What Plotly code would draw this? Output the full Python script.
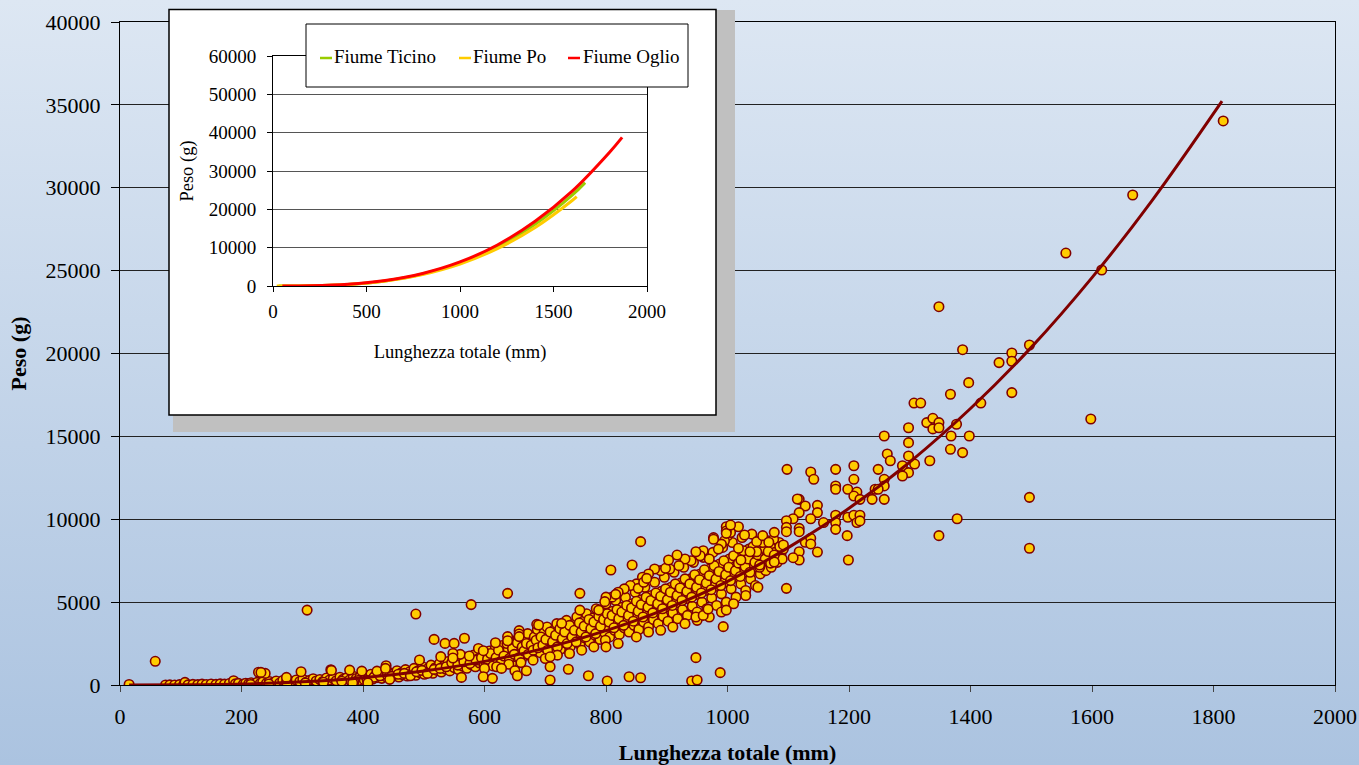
import base64
import plotly.graph_objects as go

# ---------------- data ----------------
# juvenile / small fish (length mm, weight g)
juv_len = [15, 75, 82, 90, 98, 105, 107, 112, 120, 128, 135, 142, 150, 158, 165, 172, 180, 187, 190, 195]
juv_wt = [30, 0, 10, 0, 20, 30, 160, 10, 40, 20, 50, 30, 60, 40, 70, 50, 90, 260, 70, 100]

# band along the curve, 200-400 mm
b1_len = [203, 207, 212, 216, 221, 226, 231, 235, 241, 246, 252, 257, 263, 268, 274, 279, 285, 290, 296, 301,
          307, 312, 318, 323, 329, 334, 340, 345, 351, 356, 362, 367, 373, 378, 384, 389, 395, 398,
          215, 245, 275, 305, 335, 365, 392]
b1_wt = [50, 110, 80, 140, 60, 160, 100, 190, 90, 210, 130, 240, 120, 270, 170, 230, 150, 300, 210, 350,
         180, 280, 380, 240, 330, 210, 420, 300, 380, 260, 470, 340, 430, 300, 530, 390, 480, 350,
         30, 60, 90, 130, 170, 230, 270]

# band 400-600 mm
b2_len = [402, 405, 409, 413, 416, 420, 424, 427, 431, 435, 438, 442, 445, 449, 452, 456, 459, 463, 466, 470,
          473, 477, 480, 484, 487, 491, 494, 498, 501, 505, 508, 512, 515, 519, 522, 526, 529, 533, 536, 540,
          543, 547, 550, 554, 557, 561, 564, 568, 571, 575, 578, 582, 585, 589, 592, 596, 599,
          407, 418, 428, 440, 447, 458, 468, 478, 488, 497, 506, 517, 527, 537, 546, 556, 566, 576, 586, 595,
          560, 590, 575]
b2_wt = [320, 520, 410, 650, 360, 560, 450, 720, 400, 610, 500, 780, 440, 670, 560, 860, 480, 730, 610, 930,
         540, 800, 680, 1000, 590, 870, 740, 1100, 650, 950, 810, 1200, 710, 1040, 880, 1300, 780, 1130, 960, 1420,
         850, 1230, 1050, 1550, 930, 1340, 1140, 1680, 1010, 1450, 1230, 1800, 1100, 1560, 1330, 1950, 1200,
         280, 470, 560, 620, 520, 650, 700, 560, 800, 880, 700, 940, 1000, 1100, 1350, 1200, 1400, 1300, 1500, 1650,
         1850, 2200, 1750]

# dense cloud 600-1100 mm
b3_len = [603, 606, 608, 612, 615, 618, 621, 624, 627, 631, 633, 636, 639, 642, 645, 647, 650, 652, 655, 658,
          661, 663, 666, 668, 671, 674, 676, 679, 682, 684, 687, 690, 692, 695, 698, 700, 703, 706, 709, 711,
          714, 716, 719, 722, 725, 727, 730, 733, 735, 738, 741, 743, 746, 749, 752, 755, 757, 760, 763, 765,
          768, 771, 773, 776, 779, 782, 784, 787, 790, 792, 795, 798, 800, 803, 806, 808, 811, 814, 816, 819,
          822, 824, 827, 830, 832, 835, 838, 840, 843, 846, 848, 851, 854, 856, 859, 862, 864, 867, 870, 872,
          875, 878, 880, 883, 886, 888, 891, 894, 896, 899, 902, 904, 907, 910, 912, 915, 918, 920, 923, 926,
          928, 931, 934, 936, 939, 942, 944, 947, 950, 952, 955, 958, 960, 963, 966, 968, 971, 974, 976, 979,
          982, 984, 987, 990, 992, 995, 998, 1000, 1003, 1006, 1008, 1011, 1014, 1016, 1019, 1022, 1024, 1027, 1030, 1032,
          1035, 1038, 1040, 1043, 1046, 1048, 1051, 1054, 1057, 1060, 1063, 1066, 1069, 1072, 1075, 1078, 1082, 1085, 1088, 1092]
b3_wt = [1250, 1720, 2050, 1400, 1850, 2250, 1180, 1600, 1950, 2400, 1500, 1800, 2150, 2650, 1350, 2000, 2350, 1700, 2800, 2100,
         1550, 2450, 1900, 2700, 3100, 2200, 1750, 2550, 2900, 2050, 3350, 2400, 1950, 2750, 3150, 2250, 3500, 2600, 2050, 2950,
         3300, 2400, 3700, 2750, 2150, 3100, 3450, 2550, 3900, 2900, 2300, 3250, 3650, 2700, 4100, 3050, 2450, 3450, 3850, 2850,
         4300, 3200, 2600, 3600, 4050, 3000, 4600, 3400, 2750, 3800, 4250, 3150, 4900, 3550, 2900, 4000, 4450, 3300, 5100, 3750,
         3050, 4200, 4700, 3450, 5300, 3900, 3200, 4400, 4900, 3600, 5600, 4100, 3350, 4600, 5150, 3800, 5900, 4300, 3500, 4850,
         5400, 3950, 6200, 4500, 3700, 5050, 5650, 4150, 6500, 4700, 3850, 5300, 5900, 4350, 6800, 4950, 4000, 5550, 6150, 4550,
         7100, 5200, 4200, 5800, 6400, 4750, 7400, 5450, 4400, 6050, 6700, 5000, 7700, 5700, 4600, 6300, 7000, 5250, 8000, 5950,
         4800, 6550, 7300, 5500, 8300, 6200, 5000, 6850, 7600, 5800, 8600, 6500, 5300, 7150, 7900, 6100, 8900, 6800, 5700, 7450,
         8200, 6400, 9100, 7100, 6000, 7750, 8500, 6700, 7400, 8100, 6900, 8700, 7700, 7100, 8300, 8000, 7400, 8600, 7900, 8200]

b4_len = [605, 610, 614, 619, 623, 628, 632, 637, 641, 646, 649, 654, 657, 662, 665, 669, 672, 677, 680, 685,
          688, 693, 696, 701, 704, 708, 712, 717, 720, 724, 728, 732, 736, 740, 744, 748, 751, 756, 759, 764,
          767, 772, 775, 780, 783, 788, 791, 796, 799, 802, 805, 810, 813, 818, 821, 826, 829, 834, 837, 842,
          845, 850, 853, 858, 861, 866, 869, 874, 877, 882, 885, 890, 893, 898, 901, 906, 909, 914, 917, 922,
          925, 930, 933, 938, 941, 946, 949, 954, 957, 962, 965, 970, 973, 978, 981, 986, 989, 994, 997, 1002,
          1005, 1010, 1013, 1018, 1021, 1026, 1029, 1034, 1037, 1042, 1045, 1050, 1053, 1058, 1062, 1067, 1071, 1076, 1081, 1086,
          1090]
b4_wt = [1550, 1900, 1150, 1650, 2100, 1450, 1750, 2500, 1600, 2200, 1850, 2550, 1650, 2300, 2050, 2500, 1850, 2400, 2100, 2700,
         2250, 2900, 2400, 2750, 2100, 3200, 2600, 3000, 2300, 3400, 2800, 3200, 2500, 3600, 2900, 3300, 2600, 3750, 3200, 3550,
         2900, 3950, 3400, 3800, 3100, 4150, 3550, 3950, 2700, 4300, 3800, 4200, 3450, 4550, 4000, 4400, 3600, 4800, 4200, 4650,
         3850, 5050, 4450, 4850, 4100, 5300, 4700, 5100, 4350, 5550, 4900, 5350, 4600, 5800, 5150, 5600, 4800, 6100, 5400, 5850,
         5100, 6400, 5650, 6100, 5300, 6650, 5900, 6350, 5550, 6950, 6150, 6600, 5750, 7200, 6400, 6850, 6000, 7500, 6650, 7100,
         6300, 7800, 6900, 7350, 6550, 8100, 7150, 7600, 6800, 8350, 7400, 7850, 7100, 8600, 7600, 8050, 7350, 8800, 7800, 8350,
         7600]

# upper and lower edges of the dense cloud
edge_len = [1000, 1000, 995, 1005, 990, 985, 970, 960, 955, 940, 930, 920, 905, 890, 880, 870, 860, 850, 840, 830, 820, 810, 800,
            850, 870, 890, 910, 930, 950, 970, 990, 1010, 1030, 1050, 820, 800, 780, 760, 740, 720, 700, 680, 660, 640, 620, 600]
edge_wt = [9000, 9400, 8700, 9200, 8500, 8200, 7600, 8100, 7800, 7500, 7600, 7200, 7000, 6900, 7000, 6700, 6500, 6100, 6000, 5800, 5600, 5300, 5300,
           2900, 3200, 3300, 3500, 3700, 3900, 4100, 4400, 4900, 5400, 5900, 2500, 2300, 2300, 2100, 1900, 1800, 1600, 1500, 1350, 1250, 1100, 1000]

# scattered points off the band
out_len = [58, 228, 239, 232, 274, 298, 308, 347, 348, 378, 398, 423, 438, 437, 444, 385, 383, 408,
           487, 493, 517, 528, 535, 548, 550, 548, 562, 567, 578, 598, 598, 613, 618, 628,
           638, 638, 638, 650, 654, 657, 657, 657, 669, 686, 689,
           708, 708, 708, 727, 738, 757, 757, 771, 788, 798, 802, 808, 816, 838, 843, 853, 857,
           857, 862, 867, 898, 903, 917, 941, 948, 948, 950, 948, 960, 968, 977, 977, 988, 993,
           998, 998, 998, 998, 1018, 1005, 1028, 1048, 1048, 1022, 1037, 1018]
out_wt = [1430, 770, 700, 760, 460, 800, 4520, 920, 880, 900, 840, 840, 1160, 1000, 340, 180, 130, 120,
          4280, 1510, 2750, 1710, 2510, 1900, 2510, 1630, 460, 2820, 4850, 500, 2070, 400, 2550, 1000,
          5530, 2920, 2670, 860, 560, 3280, 3080, 2920, 860, 3660, 3620,
          300, 1100, 1700, 3720, 950, 5530, 4520, 560, 4520, 5030, 240, 6940, 5470, 500, 7240, 5830, 440,
          8650, 6200, 6430, 7040, 7540, 7840, 240, 8040, 1650, 300, 4100, 4200, 4580, 8890, 8790, 745, 3520,
          4520, 9550, 9290, 9150, 9550, 9650, 9050, 8650, 8040, 7540, 8040, 8250]

# large fish
big_len = [1348, 1497, 1387, 1468, 1468, 1447, 1397, 1468, 1367, 1417, 1307, 1318, 1328, 1338, 1348,
           1338, 1348, 1377, 1298, 1258, 1368, 1398, 1298, 1367, 1387, 1298, 1263, 1268, 1333, 1308,
           1288, 1298, 1288, 1098, 1137, 1142, 1178, 1208, 1208, 1248, 1258, 1258, 1178, 1178, 1198,
           1213, 1208, 1218, 1243, 1248, 1238, 1258, 1118, 1128, 1148, 1148, 1118, 1108, 1137, 1158,
           1178, 1178, 1178, 1198, 1208, 1218, 1213, 1218, 1197, 1199, 1097, 1097, 1097, 1118, 1118,
           1077, 1058, 1068, 1092, 1128, 1137, 1137, 1148, 1118, 1118, 1077, 1077, 1108, 1053, 1348,
           1378, 1497, 1497, 1097, 1115, 1598, 1557, 1667, 1616, 1816]
big_wt = [22825, 20513, 20230, 20030, 19530, 19450, 18240, 17640, 17540, 17010, 17010, 17010, 15830, 16090, 15830,
          15450, 15520, 15730, 15520, 15020, 15020, 15020, 14620, 14220, 14020, 13820, 13940, 13530, 13530, 13330,
          13230, 12810, 12610, 13010, 12850, 12410, 13010, 13230, 12410, 13010, 12410, 12010, 12010, 11810, 11810,
          11640, 11400, 11200, 11810, 11810, 11200, 11200, 11200, 10800, 10840, 10400, 10400, 10030, 10030, 9800,
          10240, 9800, 9390, 10120, 10240, 10240, 9800, 9900, 9010, 7540, 9910, 9510, 9250, 9450, 9250,
          9210, 9010, 8610, 8450, 8610, 8850, 8510, 8020, 8040, 7540, 7840, 7420, 7680, 7240, 9010,
          10030, 11320, 8250, 5830, 11220, 16050, 26060, 29560, 25040, 34030]

# power trend line
trend_len = [15, 100, 200, 300, 400, 500, 600, 700, 800, 900, 1000, 1100, 1200, 1300, 1400, 1500, 1600, 1700, 1814]
trend_wt = [0, 8, 59, 191, 440, 840, 1425, 2225, 3280, 4610, 6255, 8290, 10660, 13450, 16680, 20370, 24580, 29290, 35230]

# inset curves
river_names = ["Fiume Ticino", "Fiume Po", "Fiume Oglio"]
river_colors = ["#99CC00", "#FFCC00", "#FF0000"]
ticino_len = [30, 200, 400, 600, 800, 1000, 1200, 1400, 1600, 1669]
ticino_wt = [0, 50, 400, 1330, 3120, 6020, 10250, 16050, 23700, 26960]
po_len = [20, 200, 400, 600, 800, 1000, 1200, 1400, 1600, 1624]
po_wt = [0, 55, 410, 1320, 3020, 5750, 9750, 15200, 22300, 23300]
oglio_len = [50, 200, 400, 600, 800, 1000, 1200, 1400, 1600, 1800, 1867]
oglio_wt = [1, 57, 432, 1414, 3268, 6270, 10700, 16820, 24750, 34900, 38780]

main_xticks = list(range(0, 2001, 200))
main_yticks = list(range(0, 40001, 5000))
inset_xticks = list(range(0, 2001, 500))
inset_yticks = list(range(0, 60001, 10000))

# ---------------- assemble scatter ----------------
all_len = juv_len + b1_len + b2_len + b3_len + b4_len + edge_len + out_len + big_len
all_wt = juv_wt + b1_wt + b2_wt + b3_wt + b4_wt + edge_wt + out_wt + big_wt

# ---------------- geometry helpers (pixel -> paper) ----------------
W, H = 1359, 765
ML, MR, MT, MB = 120, 24, 8, 80
PW, PH = W - ML - MR, H - MT - MB
def fx(px):
    return (px - ML) / PW
def fy(py):
    return (H - MB - py) / PH

SERIF = "Liberation Serif, Times New Roman, serif"

fig = go.Figure()
fig.add_trace(go.Scatter(
    x=all_len, y=all_wt, mode="markers", showlegend=False,
    marker=dict(size=9.5, color="#FFCC00", line=dict(color="#800000", width=1.6)),
    xaxis="x", yaxis="y"))
fig.add_trace(go.Scatter(
    x=trend_len, y=trend_wt, mode="lines", showlegend=False,
    line=dict(color="#800000", width=3, shape="spline"), xaxis="x", yaxis="y"))

# dummy subplot holding the inset frame
fig.add_trace(go.Scatter(x=[], y=[], xaxis="x2", yaxis="y2", showlegend=False, hoverinfo="skip"))

for name, col, xs, ys in zip(river_names, river_colors,
                             [ticino_len, po_len, oglio_len], [ticino_wt, po_wt, oglio_wt]):
    fig.add_trace(go.Scatter(x=xs, y=ys, mode="lines", name=name, showlegend=False,
                             line=dict(color=col, width=3, shape="spline"),
                             xaxis="x3", yaxis="y3"))

# gradient background
svg = ('<svg xmlns="http://www.w3.org/2000/svg" width="1359" height="765" preserveAspectRatio="none">'
       '<defs><linearGradient id="g" x1="0" y1="0" x2="0" y2="1">'
       '<stop offset="0" stop-color="#dde7f3"/><stop offset="1" stop-color="#abc3e0"/>'
       '</linearGradient></defs><rect width="100%" height="100%" fill="url(#g)"/></svg>')
src = "data:image/svg+xml;base64," + base64.b64encode(svg.encode()).decode()

shapes = [
    dict(type="rect", xref="x2", yref="y2", x0=173, x1=735, y0=10, y1=432,
         fillcolor="#c0c0c0", line=dict(width=0), layer="below"),
    dict(type="rect", xref="x2", yref="y2", x0=169, x1=716, y0=9.5, y1=415,
         fillcolor="white", line=dict(color="black", width=1.5), layer="below"),
    dict(type="rect", xref="paper", yref="paper", x0=fx(306), x1=fx(688), y0=fy(87), y1=fy(24),
         fillcolor="white", line=dict(color="black", width=1), layer="above"),
]
annotations = []
legend_dash_x = [320, 459, 568]
legend_text_x = [332, 471, 581]
for name, col, dx, tx in zip(river_names, river_colors, legend_dash_x, legend_text_x):
    shapes.append(dict(type="line", xref="paper", yref="paper", x0=fx(dx), x1=fx(dx + 12),
                       y0=fy(58), y1=fy(58), line=dict(color=col, width=2.5), layer="above"))
    annotations.append(dict(text=name, xref="paper", yref="paper", x=fx(tx), y=fy(56.5),
                            xanchor="left", yanchor="middle", showarrow=False,
                            font=dict(family=SERIF, size=19, color="black")))

fig.update_layout(
    width=W, height=H,
    margin=dict(l=ML, r=MR, t=MT, b=MB, autoexpand=False),
    paper_bgcolor="#c4d5ea", plot_bgcolor="rgba(0,0,0,0)",
    font=dict(family=SERIF, color="black"),
    images=[dict(source=src, xref="paper", yref="paper", x=fx(0), y=fy(0),
                 sizex=W / PW, sizey=H / PH, xanchor="left", yanchor="top",
                 sizing="stretch", layer="below")],
    xaxis=dict(domain=[0, 1], range=[0, 2000], tickvals=main_xticks, tickformat="d",
               tickfont=dict(size=22), ticks="outside", ticklen=6, tickcolor="#444",
               showline=True, linecolor="black", linewidth=1, mirror=True,
               showgrid=False, zeroline=False, ticklabelstandoff=6, automargin=False,
               title=dict(text="<b>Lunghezza totale (mm)</b>", font=dict(size=22), standoff=16),
               anchor="y"),
    yaxis=dict(domain=[0, fy(22)], range=[0, 40000], tickvals=main_yticks, tickformat="d",
               tickfont=dict(size=22), ticks="outside", ticklen=8, tickcolor="black",
               showline=True, linecolor="black", linewidth=1, mirror=True,
               showgrid=True, gridcolor="#222", gridwidth=1, zeroline=False,
               ticklabelstandoff=6, automargin=False,
               title=dict(text="<b>Peso (g)</b>", font=dict(size=22), standoff=12),
               anchor="x"),
    xaxis2=dict(domain=[fx(168), fx(736)], range=[168, 736], visible=False, anchor="y2",
                fixedrange=True, automargin=False),
    yaxis2=dict(domain=[fy(433), fy(8)], range=[433, 8], visible=False, anchor="x2",
                fixedrange=True, automargin=False),
    xaxis3=dict(domain=[fx(273), fx(647)], range=[0, 2000], tickvals=inset_xticks, tickformat="d",
                tickfont=dict(size=19), ticks="outside", ticklen=5, tickcolor="black",
                showline=True, linecolor="black", linewidth=1, mirror=True,
                showgrid=False, zeroline=False, ticklabelstandoff=3, automargin=False,
                title=dict(text="Lunghezza totale (mm)", font=dict(size=18.5), standoff=24),
                anchor="y3"),
    yaxis3=dict(domain=[fy(286), fy(56)], range=[0, 60000], tickvals=inset_yticks, tickformat="d",
                tickfont=dict(size=19), ticks="outside", ticklen=5, tickcolor="black",
                showline=True, linecolor="black", linewidth=1, mirror=True,
                showgrid=True, gridcolor="#555", gridwidth=1, zeroline=False,
                ticklabelstandoff=7, automargin=False,
                title=dict(text="Peso (g)", font=dict(size=18.5), standoff=10),
                anchor="x3"),
    shapes=shapes,
    annotations=annotations,
)

fig.write_html(
    "out.html",
    config={"displayModeBar": False},
    post_script="document.body.style.margin='0';document.body.style.overflow='hidden';",
)
